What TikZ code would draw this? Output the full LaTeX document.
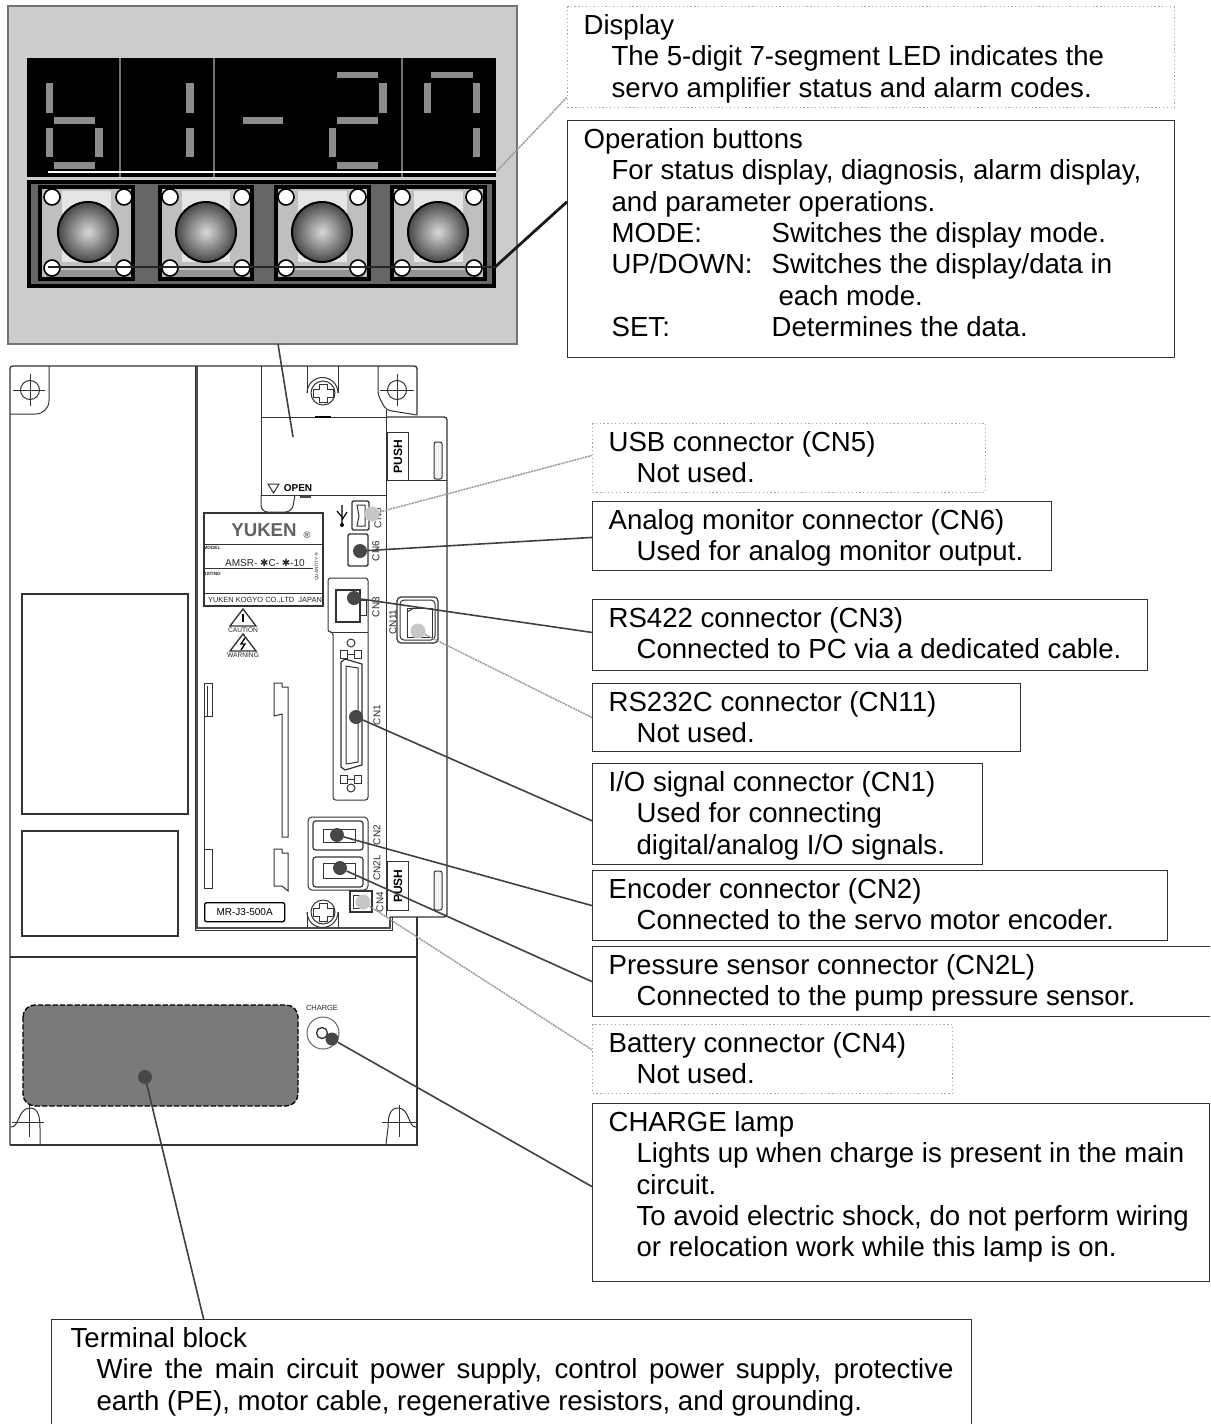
\documentclass[tikz,border=0pt]{standalone}
\usepackage{fontspec}
\setmainfont{Liberation Sans}
\newfontfamily\djv{DejaVu Sans}
\usetikzlibrary{calc}
\newlength\pxu \setlength\pxu{0.75pt}
\newcommand\cbtext[4]{\parbox[c][#2\pxu][t]{#1\pxu}{\fontsize{20.7pt}{23.475pt}\selectfont\raggedright\leftskip=#3\pxu\relax\vspace*{6pt}\rule{0pt}{15pt}\ignorespaces #4}}
\newcommand\ind{\hspace*{28\pxu}}
\tikzset{
  callout/.style={draw=black!80,line width=0.9pt,inner sep=0pt,anchor=north west,fill=white},
  calloutg/.style={draw=black!35,line width=0.9pt,dotted,inner sep=0pt,anchor=north west,fill=white},
  leader/.style={draw=black!75,line width=1.2pt},
  leaderg/.style={draw=black!40,line width=1.1pt,dash pattern=on 1.5pt off 0.6pt},
  hw/.style={draw=black!80,line width=0.75pt},
  hwthick/.style={draw=black!70,line width=1.5pt},
  seg/.style={fill=black!45,draw=none},
  spot/.style={circle,fill=black!72,draw=none,inner sep=0pt,minimum size=14\pxu},
  spotg/.style={circle,fill=black!22,draw=none,inner sep=0pt,minimum size=15\pxu},
  tiny/.style={font=\fontsize{7.5pt}{8pt}\selectfont,inner sep=0pt,text=black!85},
  tinyer/.style={font=\fontsize{5pt}{6pt}\selectfont,inner sep=0pt,text=black!85},
  vlabel/.style={tiny,rotate=90},
  hole/.style={circle,draw=black!80,line width=0.75pt,inner sep=0pt},
  btnhole/.style={circle,fill=white,draw=black,line width=1.2pt,inner sep=0pt,minimum size=16\pxu},
}
\begin{document}
\begin{tikzpicture}[x=0.75pt,y=-0.75pt]
\useasboundingbox (0,0) rectangle (1210,1424);
\clip (0,0) rectangle (1210,1424);
% ---------- enlarged panel ----------
\draw[fill=black!20,draw=black!55,line width=1pt] (8,6) rectangle (517,344);
\fill[black] (27,58) rectangle (496,177);
\foreach \x in {120,214,402} \draw[black!55,line width=0.9pt] (\x,58) -- (\x,177);
\foreach \a/\b/\c/\d in {
 46/83/53/113, 54/117/95/124, 46/128/53/157, 95/128/103/157, 54/162/95/169,
 186/83/194/113, 186/128/194/157,
 243/117/283/124,
 337/72/378/78, 379/83/387/113, 337/117/378/124, 329/128/336/157, 337/162/378/169,
 431/72/473/78, 424/83/431/113, 473/83/480/113, 473/128/480/157}
 \fill[seg] (\a,\b) rectangle (\c,\d);
\coordinate (dispL) at (48,172);
\coordinate (dispR) at (496,172);
\draw[white,line width=2pt] (dispL) -- (dispR);
% buttons
\fill[black!60,draw=black,line width=3pt] (29,182) rectangle (494,286);
\foreach \l/\r/\c in {40/133/88,160/252/206,276/369/322,392/485/438}{
  \draw[fill=black!25,draw=black,line width=2.4pt] (\l,187) rectangle (\r,279);
  \fill[black!10] (\l+22,191) rectangle (\r-22,262);
  \fill[black!42] (\l+6,270) rectangle (\r-6,277);
  \shade[inner color=black!15,outer color=black!72] (\c,232) circle (30);
  \draw[black,line width=1.5pt] (\c,232) circle (30);
  \foreach \hx/\hy in {-36/197,36/197,-36/268,36/268}
    \node[btnhole] at (\c+\hx,\hy) {};
}
\coordinate (btnL) at (48,267);
\coordinate (btnR) at (495,267);
\draw[black!85,line width=2pt] (btnL) -- (btnR);
% ---------- chassis ----------
\draw[hw,line width=1pt,rounded corners=2pt] (10,1145) -- (10,366) -- (417,366) -- (417,415);
\draw[hw,line width=1pt] (10,1145) -- (417,1145) -- (417,917);
\draw[hw,line width=1pt] (10,957) -- (417,957);
\draw[hw,rounded corners=10pt] (49,366) -- (49,414) -- (10,414);
\node[hole,minimum size=19\pxu] (holeTL) at (30,390) {};
\draw[hw] (30,374) -- (30,406) (13,390) -- (45,390);
\draw[hwthick,line width=1.8pt] (197,366) -- (197,928) -- (390,928) -- (390,917);
\draw[hw] (195,366) -- (195,930) -- (392,930) -- (392,917);
\draw[hw,rounded corners=3pt] (378,366) -- (378,395) -- (386,410) -- (417,415);
\draw[hw,rounded corners=2pt] (386,410) -- (386,917);
\draw[hw,line width=1pt,rounded corners=2pt] (386,417) -- (447,417) -- (447,917) -- (390,917);
\draw[hw] (261,366) -- (261,495);
\draw[hw] (261,417) -- (386,417) (261,495) -- (386,495);
\draw[hw,rounded corners=5pt] (261,495) -- (261,512) -- (292,512) -- (295,495);
\draw[black,line width=1.4pt] (315,417) -- (331,417);
\draw[black!70,line width=1.2pt] (300,497) -- (311,497);
% top screw
\draw[hw] (307,366) -- (307,393) (338,366) -- (338,393);
\draw[hw] (307,393) arc[start angle=180,end angle=360,radius=15.5];
\node[hole,minimum size=24\pxu] (screwT) at (323,393) {};
\draw[hw,line width=0.7pt] (319,384)--(327,384)--(327,389)--(333,389)--(333,397)--(327,397)--(327,402)--(319,402)--(319,397)--(313,397)--(313,389)--(319,389)--cycle;
% top right hole
\node[hole,minimum size=19\pxu] (holeTR) at (397,390) {};
\draw[hw] (397,374) -- (397,406) (380,390) -- (414,390);
% PUSH top
\node[draw=black!80,line width=0.75pt,minimum width=21\pxu,minimum height=48\pxu,inner sep=0pt,anchor=north west] (pushT) at (387,432) {};
\node[rotate=90,inner sep=0pt,font=\bfseries\fontsize{9pt}{10pt}\selectfont] at (pushT.center) {PUSH};
\draw[hw] (387,480) -- (447,480);
\draw[hw,rounded corners=1.5pt,fill=black!5] (434,442) rectangle (442,479);
% PUSH bottom
\node[draw=black!80,line width=0.75pt,minimum width=21\pxu,minimum height=49\pxu,inner sep=0pt,anchor=north west] (pushB) at (387,861) {};
\node[rotate=90,inner sep=0pt,font=\bfseries\fontsize{9pt}{10pt}\selectfont] at (pushB.center) {PUSH};
\draw[hw,rounded corners=1.5pt,fill=black!5] (434,871) rectangle (442,910);
% OPEN
\draw[hw] (268,484) -- (279,484) -- (273.5,493) -- cycle;
\node[inner sep=0pt,font=\bfseries\fontsize{7.5pt}{8pt}\selectfont] (openT) at (298,488) {OPEN};
% left panel
\draw[hw,line width=0.9pt] (22,594) rectangle (188,814);
\draw[hw,line width=0.9pt] (22,831) rectangle (178,936);
% name plate
\draw[hw,line width=1pt] (204,513) rectangle (323,606);
\draw[hw] (204,544) -- (323,544) (204,593) -- (323,593) (204,568) -- (313,568);
\node[inner sep=0pt,text=black!62,font=\bfseries\fontsize{14pt}{15pt}\selectfont] (logo) at (264,530) {YUKEN};
\node[tiny,font=\fontsize{7pt}{8pt}\selectfont] at (307,535) {®};
\node[tinyer,font=\bfseries\fontsize{3.5pt}{4pt}\selectfont] at (212,548) {MODEL};
\node[tinyer,font=\bfseries\fontsize{3.5pt}{4pt}\selectfont] at (212,574) {RATING};
\node[tiny,font=\fontsize{7.5pt}{8pt}\selectfont] at (265,563) {AMSR- {\djv ✱}C- {\djv ✱}-10};
\node[tinyer,font=\fontsize{5.6pt}{6pt}\selectfont] at (265,600) {YUKEN KOGYO CO.,LTD \ JAPAN};
\node[tinyer,rotate=90,font=\fontsize{3.5pt}{4pt}\selectfont] at (317,567) {QUANTITY-9};
% warning triangles
\draw[hw,line width=1pt] (243,609) -- (256,626) -- (230,626) -- cycle;
\draw[black,line width=1.3pt] (243,614) -- (243,622);
\node[tinyer] at (243,630) {CAUTION};
\draw[hw,line width=1pt] (243,634) -- (256,651) -- (230,651) -- cycle;
\draw[black,line width=1pt] (245,638) -- (241,644) -- (245,644) -- (241,650);
\node[tinyer] at (243,655) {WARNING};
% rails
\draw[hw] (204,683) -- (212,683) -- (212,716) -- (204,716);
\draw[hw] (204,683) -- (204,888);
\draw[hw] (207,686) -- (207,716);
\draw[hw] (204,849) -- (212,849) -- (212,888) -- (204,888);
\draw[hw] (274,683) -- (282,683) -- (282,687) -- (288,687) -- (288,837) -- (282,837) -- (282,714) -- (274,716) -- cycle;
\draw[hw] (274,849) -- (282,849) -- (282,853) -- (288,853) -- (288,891) -- (282,886) -- (274,886) -- cycle;
% MR plate
\node[draw=black,line width=1pt,rounded corners=1.5pt,minimum width=80\pxu,minimum height=19\pxu,inner sep=0pt,anchor=north west,font=\fontsize{7.5pt}{8pt}\selectfont] (mrplate) at (204,902) {MR-J3-500A};
% bottom screw
\draw[hw] (307,928) -- (307,912) (338,928) -- (338,912);
\draw[hw] (307,912) arc[start angle=180,end angle=0,radius=15.5];
\node[hole,minimum size=24\pxu] (screwB) at (323,912) {};
\draw[hw,line width=0.7pt] (319,903)--(327,903)--(327,908)--(333,908)--(333,916)--(327,916)--(327,921)--(319,921)--(319,916)--(313,916)--(313,908)--(319,908)--cycle;
% USB connector
\draw[hw,line width=1pt,rounded corners=1pt] (352,501) rectangle (369,530);
\draw[hw] (357,505) -- (365,505) -- (365,526) -- (357,526) -- (359,516) -- cycle;
\draw[black,line width=0.9pt] (342,505) -- (342,525) (342,517) -- (337,511) (342,520) -- (347,512);
\fill[black] (342,525) circle (2);
\node[vlabel] at (378,518) {CN5};
\node[spotg] (dotCN5) at (372,514) {};
% CN6
\draw[hw,line width=1pt,rounded corners=1pt] (348,534) rectangle (368,566);
\node[spot] (dotCN6) at (360,551) {};
\node[vlabel] at (376,551) {CN6};
% CN3/CN1 column
\draw[hw,rounded corners=2pt] (328,578) -- (368,578) -- (368,800) -- (333,800) -- (333,632) -- (328,632) -- cycle;
\draw[hw] (333,632) -- (368,632);
\draw[hw,line width=1pt] (336,590) rectangle (360,622);
\draw[hw] (360,600) -- (366,600) -- (366,615) -- (360,615);
\node[spot] (dotCN3) at (354,598) {};
\node[vlabel] at (376,607) {CN3};
\draw[hw] (351,643) circle (4);
\draw[hw] (340,650) rectangle (347,658) (354,650) rectangle (361,658) (347,654) -- (354,654);
\draw[hw,line width=0.9pt] (345,659) -- (362,664) -- (362,765) -- (345,770) -- (341,767) -- (341,662) -- cycle;
\draw[hw] (346,666) -- (358,668) -- (358,762) -- (346,764) -- cycle;
\node[spot] (dotCN1) at (356,717) {};
\node[vlabel] at (377,715) {CN1};
\draw[hw] (340,775) rectangle (347,783) (354,775) rectangle (361,783) (347,779) -- (354,779);
\draw[hw] (351,788) circle (4);
% CN11
\draw[hw,rounded corners=3pt,line width=0.9pt] (397,597) rectangle (438,643);
\draw[hw,rounded corners=3pt] (400,600) rectangle (435,640);
\draw[hw] (407,608) -- (432,608) -- (432,637) -- (407,637) -- cycle;
\draw[hw] (407,612) -- (414,608);
\node[spotg] (dotCN11) at (418,631) {};
\node[vlabel] at (393,622) {CN11};
% CN2 / CN2L
\draw[hw,rounded corners=3pt] (308,817) rectangle (368,890);
\draw[hw,rounded corners=2pt,line width=0.9pt] (313,821) -- (363,821) -- (363,850) -- (313,850) -- cycle;
\draw[hw] (323,829) rectangle (355,842);
\draw[hw,rounded corners=2pt,line width=0.9pt] (313,857) -- (363,857) -- (363,887) -- (313,887) -- cycle;
\draw[hw] (323,863) rectangle (355,878);
\node[spot] (dotCN2) at (337,835) {};
\node[spot] (dotCN2L) at (340,868) {};
\node[vlabel] at (377,835) {CN2};
\node[vlabel] at (377,868) {CN2L};
% CN4
\draw[hw,line width=0.9pt] (350,891) rectangle (372,912);
\draw[hw] (353,895) rectangle (362,908);
\node[vlabel] at (380,902) {CN4};
\node[spotg] (dotCN4) at (363,902) {};
% lower section
\draw[draw=black,dash pattern=on 4pt off 1.5pt,line width=1pt,fill=black!52,rounded corners=9pt] (23,1005) rectangle (298,1106);
\node[spot] (dotTB) at (145,1077) {};
\node[tiny,font=\fontsize{5.6pt}{6pt}\selectfont] (chargeT) at (322,1008) {CHARGE};
\node[hole,minimum size=32\pxu,draw=black!60] (lampO) at (323,1033) {};
\node[hole,minimum size=11\pxu,line width=1pt] (lampI) at (322,1033) {};
\node[spot,minimum size=13\pxu] (dotLamp) at (332,1039) {};
\draw[hw] (29,1105) -- (29,1137) (12,1122) -- (44,1122);
\draw[hw] (11,1127) .. controls (19,1128) and (18,1108) .. (30,1108) .. controls (38,1108) and (40,1116) .. (40,1128) -- (40,1144);
\draw[hw] (399,1105) -- (399,1137) (382,1122) -- (416,1122);
\draw[hw] (416,1127) .. controls (408,1128) and (410,1108) .. (398,1108) .. controls (390,1108) and (388,1116) .. (388,1128) -- (386,1144);
% ---------- callouts ----------
\node[calloutg] (boxDisplay) at (567,6) {\cbtext{607}{101}{16}{Display\\\ind The 5-digit 7-segment LED indicates the\\\ind servo amplifier status and alarm codes.}};
\node[callout] (boxOp) at (567,120) {\cbtext{607}{237}{16}{Operation buttons\\\ind For status display, diagnosis, alarm display,\\\ind and parameter operations.\\\ind\makebox[160\pxu][l]{MODE:}Switches the display mode.\\\ind\makebox[160\pxu][l]{UP/DOWN:}Switches the display/data in\\\ind\hspace*{167\pxu}each mode.\\\ind\makebox[160\pxu][l]{SET:}Determines the data.}};
\node[calloutg] (boxUSB) at (592,423) {\cbtext{393}{69}{16}{USB connector (CN5)\\\ind Not used.}};
\node[callout] (boxCN6) at (592,501) {\cbtext{459}{69}{16}{Analog monitor connector (CN6)\\\ind Used for analog monitor output.}};
\node[callout] (boxCN3) at (592,599) {\cbtext{555}{71}{16}{RS422 connector (CN3)\\\ind Connected to PC via a dedicated cable.}};
\node[callout] (boxCN11) at (592,683) {\cbtext{428}{68}{16}{RS232C connector (CN11)\\\ind Not used.}};
\node[callout] (boxCN1) at (592,763) {\cbtext{390}{101}{16}{I/O signal connector (CN1)\\\ind Used for connecting\\\ind digital/analog I/O signals.}};
\node[callout] (boxCN2) at (592,870) {\cbtext{575}{70}{16}{Encoder connector (CN2)\\\ind Connected to the servo motor encoder.}};
\node[callout] (boxCN2L) at (592,946) {\cbtext{625}{70}{16}{Pressure sensor connector (CN2L)\\\ind Connected to the pump pressure sensor.}};
\node[calloutg] (boxCN4) at (592,1024) {\cbtext{360}{69}{16}{Battery connector (CN4)\\\ind Not used.}};
\node[callout] (boxLamp) at (592,1103) {\cbtext{617}{178}{16}{CHARGE lamp\\\ind Lights up when charge is present in the main\\\ind circuit.\\\ind To avoid electric shock, do not perform wiring\\\ind or relocation work while this lamp is on.}};
\node[callout] (boxTB) at (51,1319) {\cbtext{920}{112}{19}{Terminal block\\\hspace*{26\pxu}\makebox[857\pxu][s]{Wire the main circuit power supply, control power supply, protective}\\\hspace*{26\pxu}earth (PE), motor cable, regenerative resistors, and grounding.}};
% ---------- leaders ----------
\coordinate (panelB) at (278,344);
\coordinate (coverPt) at (293,437);
\draw[leader] (panelB) -- (coverPt);
\draw[leaderg] (dispR) -- ([yshift=-30pt]boxDisplay.west);
\draw[leader,line width=2.1pt,draw=black!90] (btnR) -- ([yshift=28pt]boxOp.west);
\draw[leaderg] (dotCN5) -- ([yshift=2pt]boxUSB.west);
\draw[leader] (dotCN6) -- ([yshift=-1pt]boxCN6.west);
\draw[leader] (dotCN3) -- ([yshift=2pt]boxCN3.west);
\draw[leaderg] (dotCN11) -- (boxCN11.west);
\draw[leader] (dotCN1) -- ([yshift=-5pt]boxCN1.west);
\draw[leader] (dotCN2) -- (boxCN2.west);
\draw[leader] (dotCN2L) -- (boxCN2L.west);
\draw[leaderg] (dotCN4) -- ([yshift=7pt]boxCN4.west);
\draw[leader] (dotLamp) -- ([yshift=4.5pt]boxLamp.west);
\draw[leader] (dotTB) -- ([xshift=-231pt]boxTB.north);
\end{tikzpicture}
\end{document}
